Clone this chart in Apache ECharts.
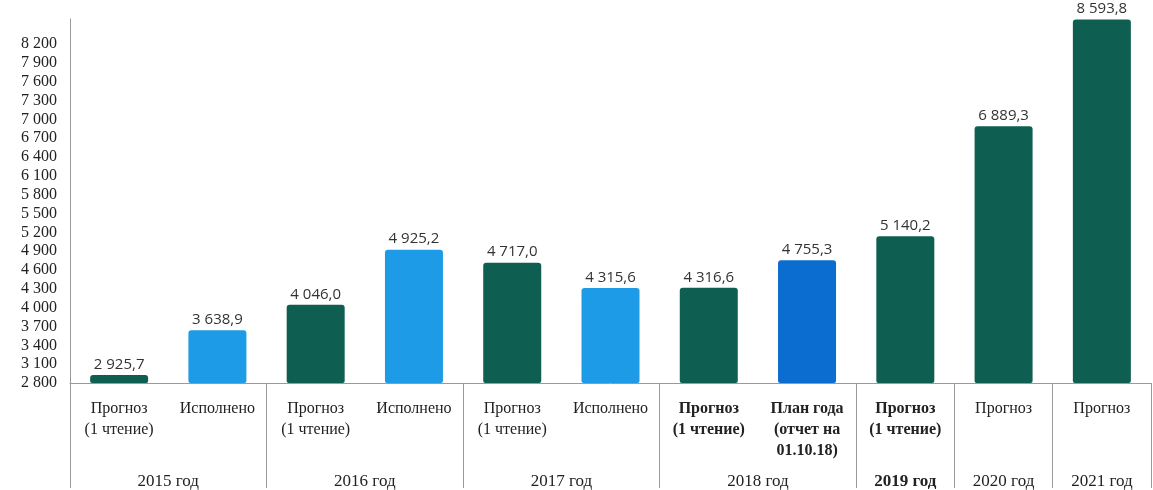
<!DOCTYPE html>
<html>
<head>
<meta charset="utf-8">
<script src="https://cdn.jsdelivr.net/npm/echarts@6/dist/echarts.min.js"></script>
<style>
html, body { margin: 0; padding: 0; background: #fff; }
#chart { width: 1153px; height: 490px; }
</style>
</head>
<body>
<div id="chart"></div>
<script>
// подписи столбцов
var categories = [
  'Прогноз\n(1 чтение)', 'Исполнено',
  'Прогноз\n(1 чтение)', 'Исполнено',
  'Прогноз\n(1 чтение)', 'Исполнено',
  'Прогноз\n(1 чтение)', 'План года\n(отчет на\n01.10.18)',
  'Прогноз\n(1 чтение)', 'Прогноз', 'Прогноз'
];
var values = [2925.7, 3638.9, 4046.0, 4925.2, 4717.0, 4315.6, 4316.6, 4755.3, 5140.2, 6889.3, 8593.8];
// f - прогноз, d - исполнено, p - план
var kinds = ['f', 'd', 'f', 'd', 'f', 'd', 'f', 'p', 'f', 'f', 'f'];
var boldCats = [6, 7, 8];

var years = ['2015 год', '2016 год', '2017 год', '2018 год', '2019 год', '2020 год', '2021 год'];
var yearCenters = [1, 3, 5, 7, 8.5, 9.5, 10.5];
var yearBounds = [0, 2, 4, 6, 8, 9, 10, 11];
var boldYears = ['2019 год'];
var lastTick = 8200;

var colors = { f: '#0e5f52', d: '#1d9be6', p: '#0a6dcf' };

function fmt(v, dec) {
  var s = dec ? v.toFixed(1) : String(Math.round(v));
  var parts = s.split('.');
  var i = parts[0].replace(/\B(?=(\d{3})+(?!\d))/g, ' ');
  return parts.length > 1 ? i + ',' + parts[1] : i;
}

var chart = echarts.init(document.getElementById('chart'));
chart.setOption({
  animation: false,
  grid: { left: 70, right: 2, top: 19, bottom: 105 },
  xAxis: [
    {
      type: 'category',
      data: categories,
      axisLine: { show: true, lineStyle: { color: '#9a9a9a' } },
      axisTick: { show: false },
      axisLabel: {
        interval: 0,
        margin: 15,
        color: '#222',
        fontFamily: 'Liberation Serif',
        fontSize: 16,
        lineHeight: 21,
        formatter: function (val, idx) {
          if (boldCats.indexOf(idx) >= 0) {
            return val.split('\n').map(function (l) { return '{b|' + l + '}'; }).join('\n');
          }
          return val;
        },
        rich: {
          b: { fontWeight: 'bold', fontFamily: 'Liberation Serif', fontSize: 16, lineHeight: 21, color: '#222' }
        }
      }
    },
    {
      type: 'value',
      min: 0,
      max: 11,
      position: 'bottom',
      axisLine: { show: false },
      splitLine: { show: false },
      axisTick: {
        show: true,
        customValues: yearBounds,
        length: 105,
        lineStyle: { color: '#9a9a9a' }
      },
      axisLabel: {
        customValues: yearCenters,
        margin: 90,
        color: '#222',
        fontFamily: 'Liberation Serif',
        fontSize: 17,
        formatter: function (v) {
          var y = years[yearCenters.indexOf(v)];
          return boldYears.indexOf(y) >= 0 ? '{b|' + y + '}' : y;
        },
        rich: {
          b: { fontWeight: 'bold', fontFamily: 'Liberation Serif', fontSize: 17, color: '#222' }
        }
      }
    }
  ],
  yAxis: {
    type: 'value',
    min: 2800,
    max: 8600,
    interval: 300,
    axisLine: { show: true, lineStyle: { color: '#9a9a9a' } },
    axisTick: { show: false },
    splitLine: { show: false },
    axisLabel: {
      margin: 13,
      color: '#222',
      fontFamily: 'Liberation Serif',
      fontSize: 16,
      formatter: function (v) { return v > lastTick ? '' : fmt(v, false); }
    }
  },
  series: [{
    type: 'bar',
    xAxisIndex: 0,
    barWidth: 58,
    data: values.map(function (v, i) {
      return { value: v, itemStyle: { color: colors[kinds[i]], borderRadius: [3, 3, 2, 2] } };
    }),
    label: {
      show: true,
      position: 'top',
      distance: 3,
      color: '#333',
      fontFamily: 'Open Sans',
      fontSize: 15,
      formatter: function (p) { return fmt(p.value, true); }
    }
  }]
});
</script>
</body>
</html>
